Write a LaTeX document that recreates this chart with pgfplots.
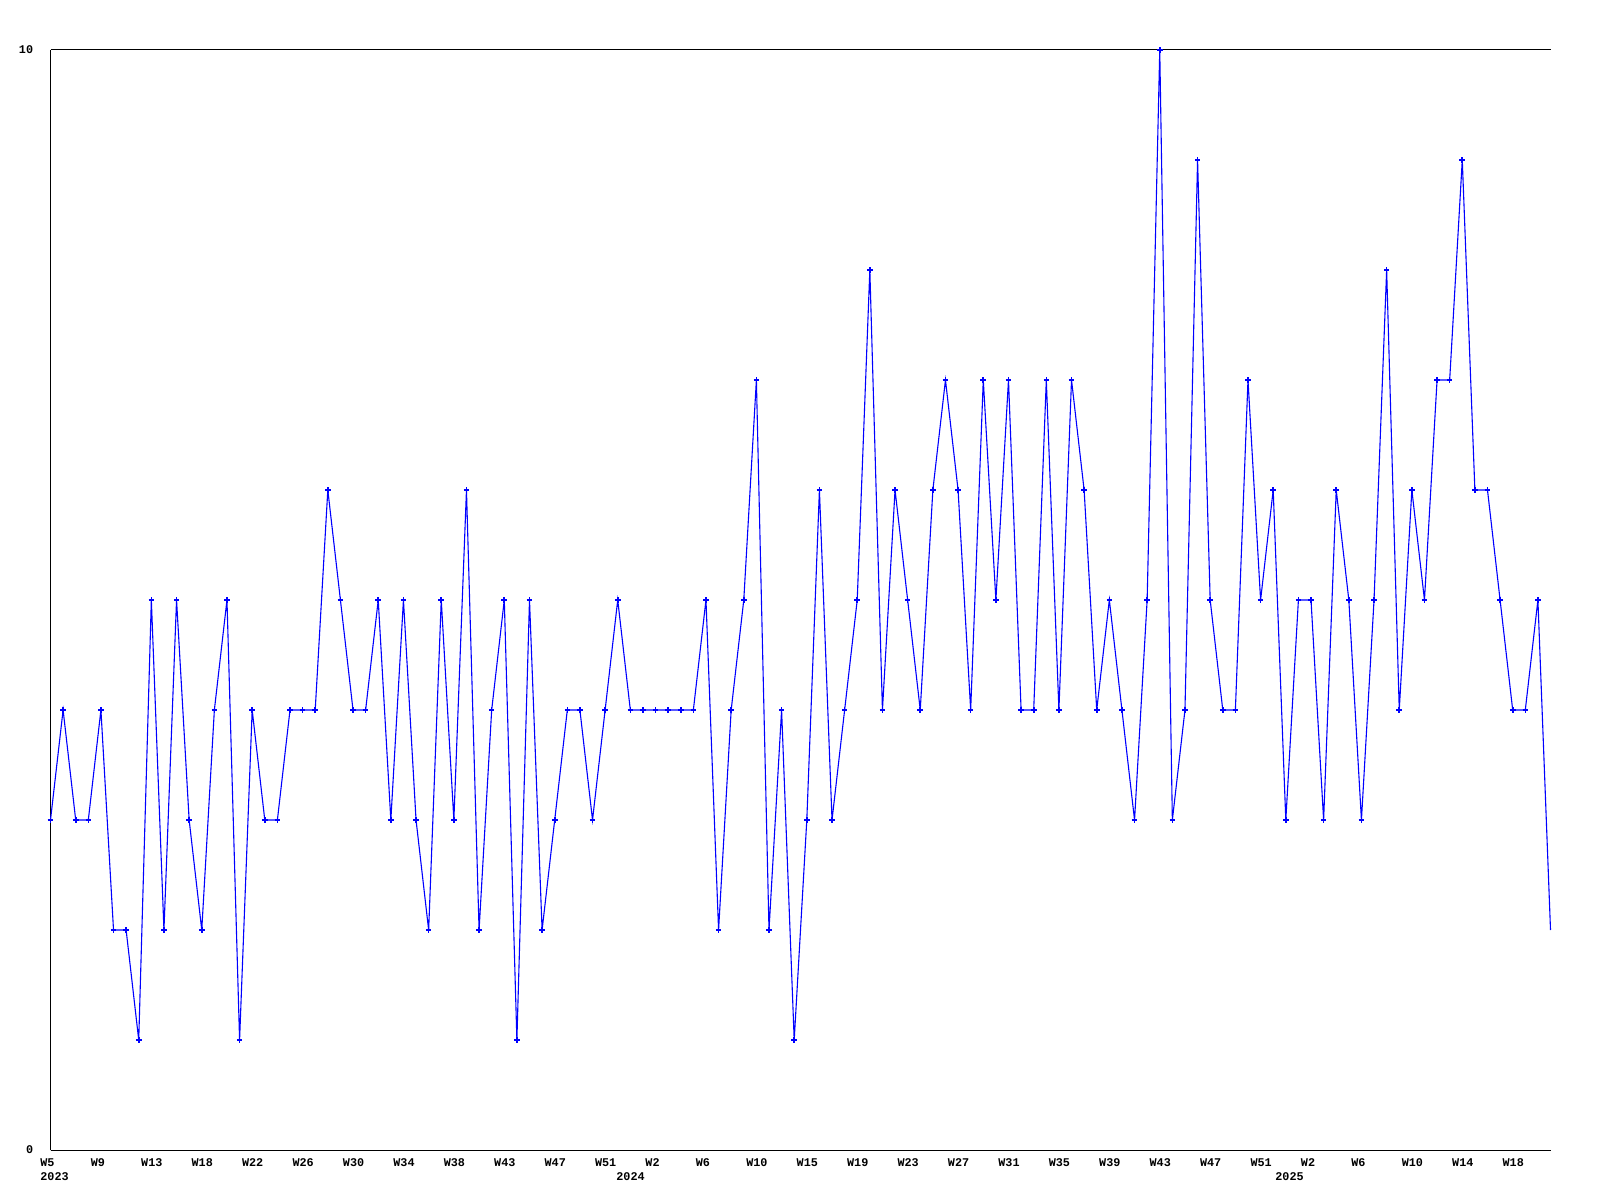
\documentclass[border=0pt]{standalone}
\usepackage{fontspec}
\setmainfont{Liberation Mono}
\usepackage{pgfplots}
\pgfplotsset{compat=1.18}
\definecolor{lineblue}{RGB}{0,0,255}
\begin{document}
\begin{tikzpicture}
\useasboundingbox (0,0) rectangle (800pt,600pt);
\begin{axis}[
  at={(25.25pt,25pt)}, anchor=south west,
  scale only axis, width=750pt, height=550pt,
  xmin=1, xmax=120, ymin=0, ymax=10,
  clip=false,
  axis x line=bottom, axis y line=left,
  axis line style={-, black, line width=0.5pt},
  major tick length=0pt,
  ytick={0,10}, yticklabels={0,10},
  ymajorgrids, grid style={black, line width=0.5pt},
  xtick={1,5,...,117},
  xticklabels={W5,W9,W13,W18,W22,W26,W30,W34,W38,W43,W47,W51,W2,W6,W10,W15,W19,W23,W27,W31,W35,W39,W43,W47,W51,W2,W6,W10,W14,W18},
  /pgf/number format/assume math mode=true,
  ticklabel style={font=\fontsize{5.9}{7}\selectfont\bfseries, inner sep=0pt},
  xticklabel style={anchor=base west, xshift=-5.25pt, yshift=-8pt},
  yticklabel style={anchor=east, xshift=-8.5pt},
]
\addplot[color=lineblue, line width=0.55pt, mark=+, mark size=1.4pt,
  mark options={line width=0.8pt}, mark indices={1,...,119}] coordinates {
(1,3)(2,4)(3,3)(4,3)(5,4)(6,2)(7,2)(8,1)(9,5)(10,2)
(11,5)(12,3)(13,2)(14,4)(15,5)(16,1)(17,4)(18,3)(19,3)(20,4)
(21,4)(22,4)(23,6)(24,5)(25,4)(26,4)(27,5)(28,3)(29,5)(30,3)
(31,2)(32,5)(33,3)(34,6)(35,2)(36,4)(37,5)(38,1)(39,5)(40,2)
(41,3)(42,4)(43,4)(44,3)(45,4)(46,5)(47,4)(48,4)(49,4)(50,4)
(51,4)(52,4)(53,5)(54,2)(55,4)(56,5)(57,7)(58,2)(59,4)(60,1)
(61,3)(62,6)(63,3)(64,4)(65,5)(66,8)(67,4)(68,6)(69,5)(70,4)
(71,6)(72,7)(73,6)(74,4)(75,7)(76,5)(77,7)(78,4)(79,4)(80,7)
(81,4)(82,7)(83,6)(84,4)(85,5)(86,4)(87,3)(88,5)(89,10)(90,3)
(91,4)(92,9)(93,5)(94,4)(95,4)(96,7)(97,5)(98,6)(99,3)(100,5)
(101,5)(102,3)(103,6)(104,5)(105,3)(106,5)(107,8)(108,4)(109,6)(110,5)
(111,7)(112,7)(113,9)(114,6)(115,6)(116,5)(117,4)(118,4)(119,5)(120,2)
};
\node[anchor=base west, inner sep=0pt, font=\fontsize{5.9}{7}\selectfont\bfseries, xshift=-5.25pt, yshift=-15.35pt] at (axis cs:1,0) {2023};
\node[anchor=base west, inner sep=0pt, font=\fontsize{5.9}{7}\selectfont\bfseries, yshift=-15.35pt] at (axis cs:45.86,0) {2024};
\node[anchor=base west, inner sep=0pt, font=\fontsize{5.9}{7}\selectfont\bfseries, yshift=-15.35pt] at (axis cs:98.14,0) {2025};
\end{axis}
\end{tikzpicture}
\end{document}
